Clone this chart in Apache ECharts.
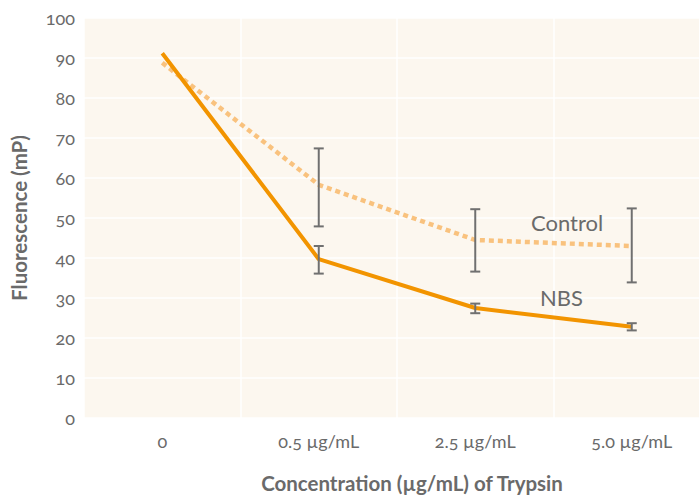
<!DOCTYPE html>
<html>
<head>
<meta charset="utf-8">
<script src="https://cdn.jsdelivr.net/npm/echarts@6/dist/echarts.min.js"></script>
<style>
html,body{margin:0;padding:0;background:#fff;width:699px;height:498px;overflow:hidden;}
#chart{width:711px;height:498px;}
#chart text{font-variant-numeric: oldstyle-nums !important; font-feature-settings: "onum" 1 !important;}
</style>
</head>
<body>
<div id="chart"></div>
<script>
var categories = ['0', '0.5 µg/mL', '2.5 µg/mL', '5.0 µg/mL'];
var nbsValues = [91.2, 39.7, 27.5, 22.8];
var nbsLow = [null, 36.1, 26.2, 21.9];
var nbsHigh = [null, 43.0, 28.6, 23.7];
var controlValues = [88.8, 58.3, 44.5, 43.0];
var controlLow = [null, 47.9, 36.6, 33.9];
var controlHigh = [null, 67.4, 52.2, 52.4];
var yTicks = [0, 10, 20, 30, 40, 50, 60, 70, 80, 90, 100];
var seriesNames = ['Control', 'NBS'];

var FONT = 'Lato';
var GRAY = '#6a6a6a';

function errData(low, high) {
  var out = [];
  for (var i = 0; i < low.length; i++) {
    if (low[i] != null) out.push([i, low[i], high[i]]);
  }
  return out;
}

function errSeries(low, high) {
  return {
    type: 'custom',
    z: 10,
    data: errData(low, high),
    renderItem: function (params, api) {
      var x = api.value(0);
      var lo = api.coord([x, api.value(1)]);
      var hi = api.coord([x, api.value(2)]);
      var hw = 5;
      var st = { stroke: '#707070', lineWidth: 2 };
      return {
        type: 'group',
        children: [
          { type: 'line', shape: { x1: lo[0], y1: lo[1], x2: hi[0], y2: hi[1] }, style: st },
          { type: 'line', shape: { x1: lo[0] - hw, y1: lo[1], x2: lo[0] + hw, y2: lo[1] }, style: st },
          { type: 'line', shape: { x1: hi[0] - hw, y1: hi[1], x2: hi[0] + hw, y2: hi[1] }, style: st }
        ]
      };
    }
  };
}

var chart = echarts.init(document.getElementById('chart'), null, { renderer: 'svg' });
chart.setOption({
  animation: false,
  backgroundColor: '#ffffff',
  grid: { left: 84, right: 1, top: 18, bottom: 75, show: true, backgroundColor: '#fcf7ef', borderWidth: 0 },
  xAxis: {
    type: 'category',
    data: categories,
    boundaryGap: true,
    axisLine: { show: false },
    axisTick: { show: false },
    axisLabel: { color: GRAY, fontFamily: FONT, fontSize: 18, margin: 14 },
    splitLine: { show: true, interval: 0, lineStyle: { color: '#ffffff', width: 1.5 } },
    name: 'Concentration (µg/mL) of Trypsin',
    nameLocation: 'middle',
    nameGap: 54,
    nameTextStyle: { color: GRAY, fontFamily: FONT, fontSize: 20.5, fontWeight: 'bold', padding: [0, 0, 0, 30] }
  },
  yAxis: {
    type: 'value',
    min: yTicks[0],
    max: yTicks[yTicks.length - 1],
    interval: 10,
    axisLine: { show: false },
    axisTick: { show: false },
    axisLabel: { color: GRAY, fontFamily: FONT, fontSize: 18, margin: 9 },
    splitLine: { show: true, lineStyle: { color: '#ffffff', width: 1.5 } },
    name: 'Fluorescence (mP)',
    nameLocation: 'middle',
    nameGap: 55,
    nameTextStyle: { color: GRAY, fontFamily: FONT, fontSize: 20.5, fontWeight: 'bold' }
  },
  series: [
    {
      name: seriesNames[0],
      type: 'line',
      data: controlValues,
      symbol: 'none',
      z: 3,
      lineStyle: { color: '#f9c27e', width: 4.5, type: [5, 4], cap: 'butt' }
    },
    {
      name: seriesNames[1],
      type: 'line',
      data: nbsValues,
      symbol: 'none',
      z: 4,
      lineStyle: { color: '#f29400', width: 4, cap: 'butt' }
    },
    errSeries(controlLow, controlHigh),
    errSeries(nbsLow, nbsHigh)
  ],
  graphic: [
    { type: 'text', z: 100, x: 531, y: 222, style: { text: seriesNames[0], fill: GRAY, font: '22px Lato', verticalAlign: 'middle' } },
    { type: 'text', z: 100, x: 540, y: 297, style: { text: seriesNames[1], fill: GRAY, font: '22px Lato', verticalAlign: 'middle' } }
  ]
});
</script>
</body>
</html>
